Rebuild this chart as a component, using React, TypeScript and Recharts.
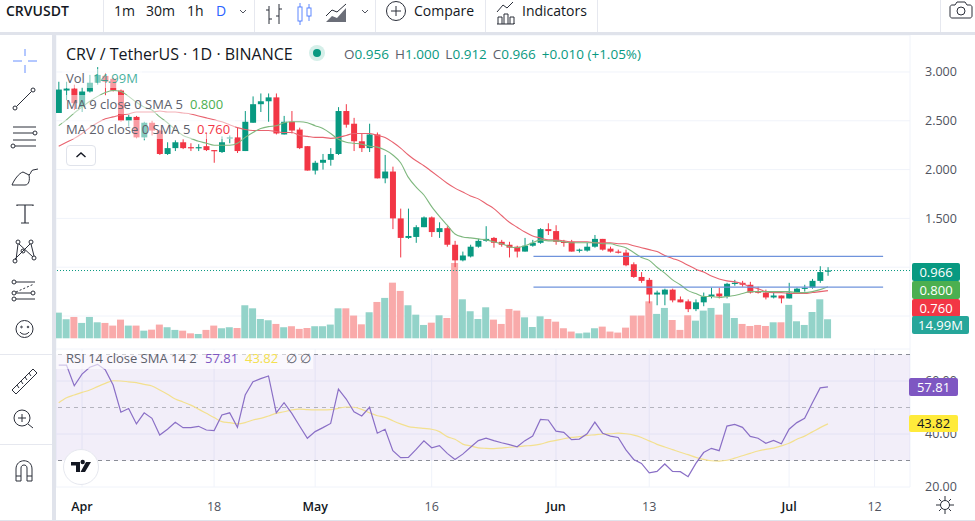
import React from "react";
import {
  ComposedChart, Bar, Line, XAxis, YAxis, CartesianGrid, ReferenceLine, ReferenceArea,
} from "recharts";

const opens = [2.58,2.81,2.83,2.64,2.80,2.89,2.96,2.93,2.81,2.50,2.54,2.33,2.48,2.40,2.16,2.22,2.28,2.23,2.22,2.24,2.20,2.18,2.32,2.33,2.19,2.48,2.67,2.70,2.74,2.36,2.49,2.41,2.24,1.99,2.07,2.10,2.16,2.60,2.47,2.29,2.22,2.36,1.91,1.98,1.50,1.30,1.31,1.41,1.51,1.36,1.40,1.23,1.07,1.11,1.21,1.27,1.30,1.26,1.23,1.21,1.16,1.22,1.25,1.39,1.37,1.26,1.26,1.17,1.17,1.21,1.29,1.19,1.16,1.15,1.03,0.90,0.87,0.72,0.72,0.77,0.67,0.65,0.57,0.64,0.70,0.73,0.70,0.83,0.84,0.82,0.75,0.74,0.69,0.71,0.68,0.74,0.78,0.79,0.86,0.956];
const closes = [2.82,2.83,2.68,2.80,2.89,2.97,2.90,2.81,2.50,2.54,2.33,2.48,2.40,2.16,2.22,2.28,2.22,2.22,2.23,2.20,2.19,2.28,2.33,2.19,2.49,2.67,2.70,2.74,2.37,2.49,2.40,2.22,1.99,2.07,2.10,2.16,2.60,2.46,2.29,2.22,2.36,1.91,1.98,1.50,1.30,1.32,1.41,1.51,1.36,1.40,1.23,1.07,1.12,1.21,1.27,1.29,1.25,1.23,1.20,1.16,1.22,1.25,1.39,1.37,1.26,1.25,1.16,1.18,1.21,1.29,1.18,1.16,1.15,1.02,0.90,0.86,0.72,0.74,0.77,0.66,0.64,0.57,0.64,0.70,0.72,0.70,0.83,0.84,0.82,0.74,0.74,0.69,0.71,0.68,0.74,0.78,0.79,0.86,0.95,0.966];
const highs = [2.90,2.90,2.87,2.84,2.97,3.05,2.99,2.94,2.82,2.56,2.55,2.49,2.50,2.41,2.28,2.30,2.31,2.27,2.26,2.37,2.20,2.34,2.35,2.43,2.60,2.75,2.78,2.78,2.78,2.55,2.60,2.43,2.24,2.09,2.16,2.22,2.64,2.67,2.53,2.37,2.47,2.38,2.15,2.03,1.60,1.60,1.43,1.52,1.52,1.46,1.42,1.27,1.16,1.23,1.29,1.42,1.31,1.28,1.26,1.22,1.30,1.28,1.40,1.45,1.43,1.28,1.28,1.19,1.25,1.33,1.29,1.21,1.18,1.18,1.05,0.95,0.89,0.76,0.78,0.78,0.70,0.67,0.67,0.74,0.79,0.79,0.84,0.87,0.86,0.85,0.80,0.77,0.74,0.71,0.84,0.79,0.82,0.88,1.01,1.00];
const lows = [2.58,2.71,2.61,2.59,2.79,2.87,2.76,2.80,2.49,2.44,2.32,2.30,2.35,2.15,2.15,2.19,2.21,2.19,2.19,2.19,2.07,2.17,2.27,2.17,2.19,2.48,2.59,2.49,2.36,2.36,2.37,2.21,1.99,1.95,2.00,2.04,2.15,2.43,2.19,2.18,2.18,1.91,1.86,1.39,1.10,1.29,1.25,1.41,1.31,1.30,1.21,1.00,1.06,1.10,1.20,1.26,1.20,1.21,1.10,1.10,1.16,1.21,1.24,1.33,1.23,1.21,1.16,1.15,1.16,1.20,1.17,1.15,1.14,1.01,0.89,0.84,0.63,0.61,0.61,0.64,0.64,0.54,0.55,0.60,0.68,0.68,0.68,0.81,0.80,0.73,0.73,0.67,0.68,0.63,0.68,0.74,0.75,0.78,0.84,0.912];
// volume in millions
const vols = [20.2,15.0,16.8,12.1,16.8,12.6,12.1,10.0,14.7,10.0,10.0,6.0,6.8,10.8,8.7,6.6,6.0,3.9,3.4,6.6,10.0,7.9,8.7,8.1,26.0,23.6,15.2,14.2,11.3,8.7,9.5,7.4,8.1,9.5,9.5,10.8,23.6,23.6,17.9,11.0,20.5,28.6,31.8,43.8,37.3,26.0,18.6,10.5,12.3,18.1,16.0,59.3,30.7,21.3,15.2,24.4,14.7,11.3,23.1,21.8,16.5,8.9,17.3,15.2,13.1,7.9,5.3,3.9,4.5,7.9,9.2,5.3,4.5,8.4,17.9,17.9,29.1,19.2,23.9,14.4,6.6,18.1,13.9,21.8,23.9,18.6,27.6,16.0,11.3,9.7,10.5,9.7,12.6,12.6,26.3,13.4,10.5,20.7,30.7,14.99];
const ma9 = [2.45,2.51,2.58,2.64,2.70,2.75,2.79,2.81,2.80,2.75,2.69,2.64,2.61,2.54,2.48,2.41,2.35,2.32,2.29,2.27,2.25,2.25,2.25,2.27,2.33,2.38,2.42,2.44,2.45,2.48,2.49,2.49,2.48,2.45,2.42,2.37,2.31,2.28,2.27,2.26,2.24,2.23,2.20,2.15,2.07,1.92,1.82,1.74,1.62,1.52,1.43,1.34,1.31,1.30,1.29,1.28,1.26,1.24,1.21,1.20,1.22,1.25,1.28,1.27,1.27,1.26,1.25,1.25,1.25,1.25,1.24,1.24,1.22,1.20,1.15,1.10,1.07,1.00,0.94,0.87,0.82,0.76,0.73,0.70,0.70,0.69,0.70,0.71,0.73,0.75,0.75,0.75,0.75,0.75,0.75,0.74,0.74,0.75,0.77,0.80];
const ma20 = [2.24,2.28,2.32,2.37,2.43,2.48,2.52,2.54,2.56,2.57,2.59,2.59,2.59,2.60,2.59,2.59,2.58,2.57,2.55,2.53,2.51,2.49,2.46,2.43,2.41,2.40,2.40,2.40,2.39,2.38,2.38,2.35,2.34,2.33,2.33,2.32,2.33,2.35,2.37,2.37,2.37,2.35,2.33,2.28,2.22,2.15,2.09,2.04,1.98,1.92,1.86,1.81,1.77,1.73,1.70,1.65,1.60,1.53,1.46,1.41,1.36,1.32,1.30,1.28,1.28,1.27,1.26,1.26,1.26,1.25,1.25,1.25,1.24,1.24,1.22,1.20,1.18,1.16,1.12,1.09,1.06,1.02,0.98,0.95,0.91,0.88,0.86,0.85,0.83,0.80,0.78,0.75,0.74,0.74,0.73,0.73,0.73,0.74,0.75,0.76];
const rsi = [66.0,66.0,58.2,62.6,65.2,66.3,64.2,58.5,48.2,49.6,43.8,48.0,45.9,39.6,41.8,44.4,42.4,42.4,42.9,41.5,41.3,47.2,48.0,42.5,54.7,59.7,60.9,61.9,48.0,51.8,47.8,43.0,38.4,40.9,42.4,44.0,56.9,53.2,48.4,46.8,50.1,40.3,41.8,33.7,31.1,31.2,34.2,37.4,34.8,35.6,32.7,30.4,32.4,35.0,37.5,38.4,37.5,36.7,36.0,35.2,37.5,39.2,45.5,45.3,41.1,40.6,37.9,38.1,40.1,44.5,40.3,39.2,38.7,34.0,30.4,28.9,25.3,25.9,28.7,25.9,25.8,23.9,28.9,33.0,34.6,33.7,43.0,43.6,42.5,39.1,38.4,36.5,37.6,36.3,41.8,44.3,45.9,51.8,57.4,57.81];
const rsiMa = [51.8,53.7,54.7,55.7,56.6,57.9,59.1,60.1,60.0,59.7,59.4,58.7,58.1,56.6,55.0,53.2,52.1,50.9,49.4,47.8,46.2,44.7,44.3,43.8,44.3,45.3,45.9,46.8,47.8,48.4,49.1,49.4,49.2,49.1,49.1,49.2,49.7,50.2,50.1,49.3,48.0,46.9,46.3,45.0,43.8,42.8,42.4,42.1,41.8,40.9,39.0,38.0,36.2,35.5,34.8,34.6,34.5,34.7,35.0,35.2,35.5,35.7,36.2,37.0,37.6,38.2,38.7,39.0,39.5,39.7,40.0,40.1,40.3,40.1,39.6,38.7,37.4,36.1,35.1,34.1,33.1,32.2,31.2,30.4,29.9,29.8,30.1,30.9,31.8,32.7,33.6,34.2,34.7,35.5,36.5,38.0,39.2,40.8,42.4,43.82];

const timeTicks = [3, 20, 33, 48, 64, 76, 94, 105];
const timeLabels = ["Apr", "18", "May", "16", "Jun", "13", "Jul", "12"];
const monthLabels = ["Apr", "May", "Jun", "Jul"];
const priceTicks = [0.5, 1, 1.5, 2, 2.5, 3];
// 0.500 and 1.000 sit behind the price tags in the reference
const coveredPrices = [0.5, 1];
const rsiTicks = [20, 40, 60];
const rsiBands = [70, 50, 30];
const drawnLevels = [1.11, 0.795];

const rows = opens.map((o, i) => ({
  i,
  candle: [lows[i], highs[i]],
  o,
  c: closes[i],
  vol: vols[i],
  ma9: ma9[i],
  ma20: ma20[i],
  rsi: rsi[i],
  rsiMa: rsiMa[i],
}));

const UP = "#089981";
const DOWN = "#f23645";
const GRID = "#f0f3fa";
const INK = "#131722";
const LEG = "#5d606b";
const xDomain: [number, number] = [-0.35, 109.56];

function Candle(props: any) {
  const { x, y, width, height, payload } = props;
  const hi = payload.candle[1];
  const lo = payload.candle[0];
  const at = (v: number) => y + ((hi - v) / (hi - lo)) * height;
  const col = payload.c >= payload.o ? UP : DOWN;
  const top = at(Math.max(payload.o, payload.c));
  const bot = at(Math.min(payload.o, payload.c));
  return (
    <g>
      <line x1={x + width / 2} x2={x + width / 2} y1={y} y2={y + height} stroke={col} strokeWidth={1} />
      <rect x={x} y={top} width={width} height={Math.max(1.2, bot - top)} fill={col} />
    </g>
  );
}

function VolBar(props: any) {
  const { x, y, width, height, payload } = props;
  return <rect x={x} y={y} width={width} height={height} fill={payload.c >= payload.o ? "#93d3c9" : "#f9aaaa"} />;
}

function TimeTick(props: any) {
  const { x, y, payload } = props;
  const label = timeLabels[timeTicks.indexOf(payload.value)];
  const month = monthLabels.includes(label);
  return (
    <text x={x} y={y + 16} textAnchor="middle" fontSize={12.5} fontWeight={month ? 600 : 400} fill={month ? INK : "#50535e"}>
      {label}
    </text>
  );
}

function MainChart() {
  return (
    <ComposedChart width={975} height={314} data={rows} margin={{ top: 0, right: 0, bottom: 0, left: 56 }}>
      <CartesianGrid stroke={GRID} xAxisId="p" yAxisId="price" />
      <XAxis xAxisId="p" dataKey="i" type="number" domain={xDomain} ticks={timeTicks} tick={false} axisLine={false} tickLine={false} height={0} />
      <XAxis xAxisId="v" dataKey="i" type="number" domain={xDomain} hide />
      <YAxis yAxisId="price" orientation="right" type="number" domain={[0.1619, 3.379]} ticks={priceTicks} width={65} tickMargin={9}
        tickFormatter={(v: number) => (coveredPrices.includes(v) ? "" : v.toFixed(3))} tick={{ fontSize: 12.5, fill: "#50535e" }} axisLine={false} tickLine={false} />
      <YAxis yAxisId="vol" type="number" domain={[-8.43, 238.8]} hide />
      <ReferenceLine xAxisId="p" yAxisId="price" y={0.966} stroke={UP} strokeDasharray="1 2" strokeWidth={1} />
      <Bar xAxisId="v" yAxisId="vol" dataKey="vol" barSize={7} shape={VolBar} isAnimationActive={false} />
      <Bar xAxisId="p" yAxisId="price" dataKey="candle" barSize={6} shape={Candle} isAnimationActive={false} />
      <Line xAxisId="p" yAxisId="price" dataKey="ma20" type="monotone" stroke="#e8636f" strokeWidth={1.1} dot={false} isAnimationActive={false} />
      <Line xAxisId="p" yAxisId="price" dataKey="ma9" type="monotone" stroke="#7fb87f" strokeWidth={1.1} dot={false} isAnimationActive={false} />
      {drawnLevels.map((lv) => (
        <ReferenceLine key={lv} xAxisId="p" yAxisId="price" stroke="#6f93dc" strokeWidth={1.2}
          segment={[{ x: 61.1, y: lv }, { x: 106.1, y: lv }]} />
      ))}
    </ComposedChart>
  );
}

function RsiChart() {
  return (
    <ComposedChart width={975} height={172} data={rows} margin={{ top: 0, right: 0, bottom: 0, left: 56 }}>
      <ReferenceArea xAxisId="p" yAxisId="r" y1={30} y2={70} fill="#7e57c2" fillOpacity={0.1} stroke="none" />
      <CartesianGrid stroke={GRID} xAxisId="p" yAxisId="r" />
      <XAxis xAxisId="p" dataKey="i" type="number" domain={xDomain} ticks={timeTicks} tick={<TimeTick />} axisLine={false} tickLine={false} height={34} />
      <YAxis yAxisId="r" orientation="right" type="number" domain={[20, 72.08]} ticks={rsiTicks} width={65} tickMargin={9}
        tickFormatter={(v: number) => v.toFixed(2)} tick={{ fontSize: 12.5, fill: "#50535e" }} axisLine={false} tickLine={false} />
      {rsiBands.map((b) => (
        <ReferenceLine key={b} xAxisId="p" yAxisId="r" y={b} stroke="#8a8d96" strokeOpacity={b === 50 ? 0.6 : 1} strokeDasharray="4 4" strokeWidth={1} />
      ))}
      <Line xAxisId="p" yAxisId="r" dataKey="rsiMa" type="monotone" stroke="#f3e08f" strokeWidth={1.2} dot={false} isAnimationActive={false} />
      <Line xAxisId="p" yAxisId="r" dataKey="rsi" type="linear" stroke="#8a6fc6" strokeWidth={1.2} dot={false} isAnimationActive={false} />
    </ComposedChart>
  );
}

function Txt({ x, y, c = INK, s = 13, w = 400, children, op = 1 }: any) {
  return (
    <div style={{ position: "absolute", left: x, top: y, color: c, fontSize: s, fontWeight: w, opacity: op, lineHeight: "16px", height: 16, whiteSpace: "nowrap" }}>
      {children}
    </div>
  );
}

function Badge({ y, w = 48, x = 912, h = 18, bg, c = "#fff", children }: any) {
  return (
    <div style={{ position: "absolute", left: x, top: y, width: w, height: h, background: bg, color: c, borderRadius: 2, fontSize: 13, fontWeight: 500, lineHeight: h + "px", textAlign: "center" }}>
      {children}
    </div>
  );
}

function Veil({ x, y, w, h, a = 0.5 }: any) {
  return <div style={{ position: "absolute", left: x, top: y, width: w, height: h, background: `rgba(255,255,255,${a})` }} />;
}

function Icons() {
  const st = { fill: "none", stroke: "#2a2e39", strokeWidth: 1 };
  return (
    <svg width={975} height={521} style={{ position: "absolute", left: 0, top: 0, pointerEvents: "none" }}>
      {/* left toolbar */}
      <path d="M13 61h9M28 61h9M25 49v7M25 65v8" fill="none" stroke="#2962ff" strokeOpacity={0.7} strokeWidth={1} />
      <g {...st}>
        <circle cx={15} cy={108} r={2} /><circle cx={33} cy={90} r={2} /><path d="M16.5 106.5L31.5 91.5" />
        <path d="M13 127h23M13 133h20M13 140h23M15 146h21" /><circle cx={35} cy={133} r={2} /><circle cx={13} cy={146} r={2} />
        <path d="M12 185h13c4 0 5-5 4-10l-6-3c-4 1-9 8-11 13zM29 175c2-1 2-5 4-5l5-1" />
        <path d="M17 206v-1h16v1M25 205v18M21 223h8" strokeWidth={1.2} />
        <circle cx={18} cy={242} r={2} /><circle cx={31} cy={242} r={2} /><circle cx={15} cy={261} r={2} /><circle cx={34} cy={258} r={2} /><circle cx={23} cy={251} r={2} />
        <path d="M16 260l2-16M19 244l14 13M30 244l-15 15M31 244l3 12" />
        <circle cx={14} cy={282} r={2} /><circle cx={14} cy={293} r={2} /><circle cx={33} cy={293} r={2} /><circle cx={14} cy={299} r={2} />
        <path d="M16 282h19M16 293h15M16 299h19" /><path d="M16 292l18-8" strokeDasharray="2 2" />
        <circle cx={24.5} cy={329} r={8.5} /><circle cx={21.5} cy={327} r={0.8} /><circle cx={28} cy={327} r={0.8} /><path d="M20 332c2 3 7 3 9 0" />
        <path d="M12 390L33 369l4 4L16 394zM17 385l2 3M21 381l2 3M25 377l2 3M29 373l2 3" />
        <circle cx={22} cy={418} r={8} /><path d="M18 418h8M22 414v8M28 424l5 4" />
        <path d="M16 481v-12c0-11 16-11 16 0v12h-5v-13c0-4-6-4-6 0v13zM16 476h5M27 476h5" />
        {/* top toolbar */}
        <path d="M269 6v18M269 10h-3M269 19h3M279 4v20M279 9h3M279 16h-3" />
      </g>
      <g fill="none" stroke="#2962ff" strokeOpacity={0.75} strokeWidth={1}>
        <rect x={298} y={7} width={4} height={14} /><path d="M300 3v4M300 21v4" />
        <rect x={307} y={8} width={4} height={8} /><path d="M309 4v4M309 16v5" />
      </g>
      <g fill="none" stroke="#50535e" strokeWidth={1}>
        <path d="M240 10l3 3 3-3M362 10l3 3 3-3" />
      </g>
      <path d="M326 22l6-6 5 2 9-10v14z" fill="#6b6e78" />
      <path d="M326 16l6-6 5 2 9-8" fill="none" stroke="#2a2e39" />
      <g {...st}>
        <circle cx={396} cy={11} r={9.5} /><path d="M391 11h10M396 6v10" />
        <path d="M497 24h17v-1M498 24v-7h4v7M504 24v-10h4v10M510 24v-7h4v7M497 12l6-7 4 3 6-6" />
        <path d="M950 7c0-1 1-2 2-2h3l2-3h8l2 3h3c1 0 2 1 2 2v9c0 1-1 2-2 2h-18c-1 0-2-1-2-2z" /><circle cx={961} cy={11} r={4} />
        {/* settings gear */}
        <circle cx={945} cy={505} r={4.5} /><path d="M945 496v4M945 510v4M936 505h4M950 505h4M939 499l2.5 2.5M951 511l-2.5-2.5M939 511l2.5-2.5M951 499l-2.5 2.5" />
      </g>
      <path d="M71 462h9v10h-4v-6.5h-5zM86 462h5l-6 10h-4.5zM80.5 462a2.2 2.2 0 1 0 4.4 0a2.2 2.2 0 1 0 -4.4 0" fill={INK} />
    </svg>
  );
}

export default function App() {
  return (
    <div style={{ position: "fixed", left: 0, top: 0, width: 975, height: 521, overflow: "hidden", background: "#fff", fontFamily: "'Open Sans', 'Noto Sans', sans-serif" }}>
      <div style={{ position: "absolute", left: 0, top: 35 }}><MainChart /></div>
      <div style={{ position: "absolute", left: 0, top: 349 }}><RsiChart /></div>

      {/* chrome */}
      <div style={{ position: "absolute", left: 0, top: 32, width: 975, height: 3, background: "#e0e3eb" }} />
      <div style={{ position: "absolute", left: 0, top: 35, width: 52, height: 486, background: "#fff" }} />
      <div style={{ position: "absolute", left: 52, top: 35, width: 4, height: 486, background: "#e0e3eb" }} />
      <div style={{ position: "absolute", left: 0, top: 519.5, width: 975, height: 2, background: "#e0e3eb" }} />
      <div style={{ position: "absolute", left: 0, top: 354, width: 52, height: 1, background: "#e6e8ef" }} />
      <div style={{ position: "absolute", left: 0, top: 444, width: 52, height: 1, background: "#e6e8ef" }} />
      {[103, 254, 375, 485, 597, 940].map((x) => (
        <div key={x} style={{ position: "absolute", left: x, top: 0, width: 1, height: 32, background: "#e6e8ef" }} />
      ))}

      {/* toolbar text */}
      <Txt x={6} y={3} s={14} w={600}>CRVUSDT</Txt>
      <Txt x={114} y={3} s={14}>1m</Txt>
      <Txt x={146} y={3} s={14}>30m</Txt>
      <Txt x={187} y={3} s={14}>1h</Txt>
      <Txt x={216} y={3} s={14} c="#2962ff">D</Txt>
      <Txt x={414} y={3} s={14}>Compare</Txt>
      <Txt x={522} y={3} s={14}>Indicators</Txt>

      {/* header legend */}
      <Txt x={66} y={46} s={16}>CRV / TetherUS · 1D · BINANCE</Txt>
      <div style={{ position: "absolute", left: 309, top: 45, width: 16, height: 16, borderRadius: 8, background: "#d5efe9" }} />
      <div style={{ position: "absolute", left: 313, top: 49, width: 8, height: 8, borderRadius: 4, background: UP }} />
      <div style={{ position: "absolute", left: 344, top: 46, display: "flex", gap: 6, fontSize: 13.5, lineHeight: "16px", color: UP, whiteSpace: "nowrap" }}>
        <span><span style={{ color: LEG }}>O</span>0.956</span>
        <span><span style={{ color: LEG }}>H</span>1.000</span>
        <span><span style={{ color: LEG }}>L</span>0.912</span>
        <span><span style={{ color: LEG }}>C</span>0.966</span>
        <span>+0.010 (+1.05%)</span>
      </div>

      <Veil x={62} y={69} w={80} h={19} />
      <Veil x={62} y={95} w={166} h={19} />
      <Veil x={62} y={120} w={173} h={19} />
      <Txt x={66} y={70} c={LEG}>Vol</Txt>
      <Txt x={93} y={70} c={UP} op={0.75}>14.99M</Txt>
      <Txt x={66} y={96} c={LEG}>MA 9 close 0 SMA 5</Txt>
      <Txt x={190} y={96} c="#4caf50">0.800</Txt>
      <Txt x={66} y={121} c={LEG}>MA 20 close 0 SMA 5</Txt>
      <Txt x={197} y={121} c={DOWN}>0.760</Txt>
      <div style={{ position: "absolute", left: 66, top: 145, width: 30, height: 21, border: "1px solid #e0e3eb", borderRadius: 4, background: "#fff", boxSizing: "border-box" }} />
      <svg width={12} height={8} style={{ position: "absolute", left: 75, top: 151 }}>
        <path d="M1.5 6l4.5-4 4.5 4" fill="none" stroke={INK} strokeWidth={1.4} />
      </svg>

      <Veil x={56} y={351} w={257} h={18} a={0.6} />
      <Txt x={66} y={350} c={LEG}>RSI 14 close SMA 14 2</Txt>
      <Txt x={205} y={350} c="#7e57c2">57.81</Txt>
      <Txt x={245} y={350} c="#f3e04f">43.82</Txt>
      <Txt x={286} y={350} c={LEG}>∅</Txt>
      <Txt x={300} y={350} c={LEG}>∅</Txt>

      {/* TV badge */}
      <div style={{ position: "absolute", left: 63, top: 449, width: 36, height: 36, borderRadius: 18, background: "#fff", border: "1px solid #e6e8ef", boxSizing: "border-box" }} />
      <Icons />

      {/* axis badges */}
      <Badge y={263} bg={UP}>0.966</Badge>
      <Badge y={281} bg="#4caf50">0.800</Badge>
      <Badge y={299} bg={DOWN}>0.760</Badge>
      <Badge y={316} w={57} bg="#26a69a">14.99M</Badge>
      <Badge y={378} x={909} w={49} bg="#7e57c2">57.81</Badge>
      <Badge y={415} x={909} w={49} h={17} bg="#ffeb3b" c={INK}>43.82</Badge>
    </div>
  );
}
